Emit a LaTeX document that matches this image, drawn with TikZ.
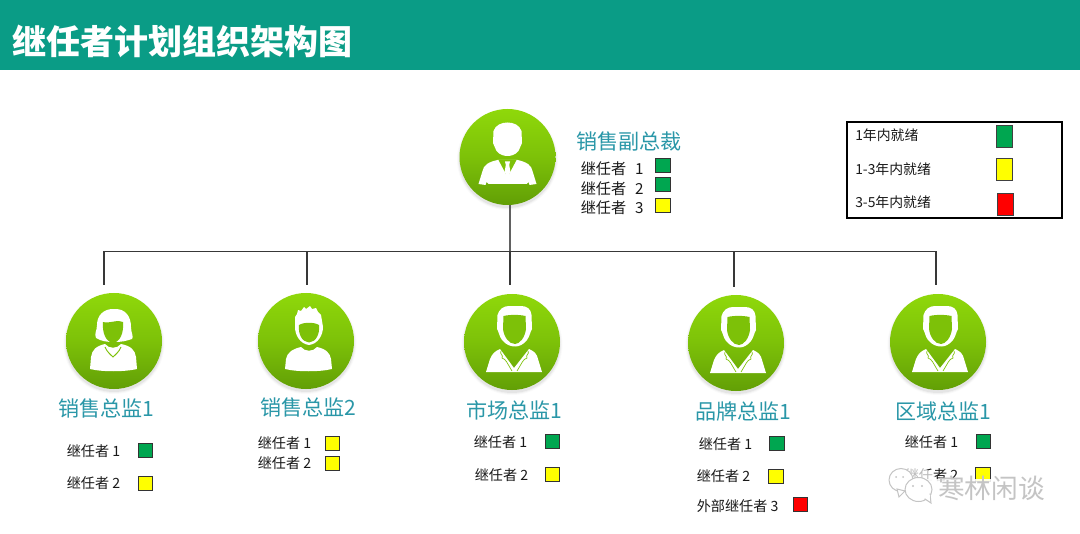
\documentclass[tikz,border=0pt]{standalone}
\usepackage{fontspec}
\setmainfont{Noto Sans CJK SC}
\usetikzlibrary{shadings}
\definecolor{headerteal}{HTML}{0A9C86}
\definecolor{nameteal}{HTML}{2A97A8}
\definecolor{swgreen}{HTML}{00A650}
\definecolor{swyellow}{HTML}{FFFF00}
\definecolor{swred}{HTML}{FF0000}
\definecolor{ballTop}{HTML}{8FD80A}
\definecolor{ballBot}{HTML}{629F06}
\definecolor{wmgray}{HTML}{C4C4C4}
\newcommand{\pxfont}[1]{\fontsize{#1}{#1}\selectfont}
\tikzset{
  x=0.75pt,y=-0.75pt,
  ball/.style={circle,minimum size=72pt,inner sep=0pt,top color=ballTop,bottom color=ballBot,middle color=ballTop!60!ballBot},
  wire/.style={draw=black!78,line width=0.95pt},
  post/.style={wire},
  title/.style={anchor=center,text=nameteal,font=\pxfont{15.8pt},inner sep=0pt},
  who/.style={anchor=west,text=black!90,font=\pxfont{10.6pt},inner sep=0pt},
  whobig/.style={anchor=west,text=black!90,font=\pxfont{11.4pt},inner sep=0pt},
  legtxt/.style={anchor=west,text=black!90,font=\pxfont{10.4pt},inner sep=0pt},
  sw/.style={draw=black!80,line width=0.7pt,inner sep=0pt,minimum width=11pt,minimum height=10.5pt},
  legsw/.style={draw=black!75,line width=0.7pt,inner sep=0pt,minimum width=12pt,minimum height=16.5pt},
  iconfill/.style={fill=white,draw=none},
  holefill/.style={fill=ballTop!60!ballBot,draw=none},
  lineonicon/.style={draw=ballTop!60!ballBot,line width=0.5pt},
  doctor/.pic={
    \fill[iconfill] (-15,-13) -- (-14.5,-27) .. controls (-13,-33) and (-8,-36) .. (-3,-36) -- (9,-36) .. controls (15,-36) and (19,-33) .. (19.5,-27) -- (20,-13) .. controls (18,-10) and (18,-6) .. (15,-2) .. controls (11,3) and (7,4.5) .. (3,4.5) .. controls (-1,4.5) and (-6,3) .. (-10,-2) .. controls (-13,-6) and (-13,-10) .. (-15,-13) -- cycle;
    \fill[holefill] (-8.5,-26) .. controls (-2,-27.5) and (7,-27.5) .. (13.5,-26) -- (14,-13) .. controls (13,-5) and (8,2) .. (3,2) .. controls (-3,2) and (-8,-5) .. (-9,-13) -- cycle;
    \fill[iconfill] (-12,7) -- (2,26) -- (17,7) .. controls (22,9) and (25,12) .. (26,17) -- (30,30) -- (-26,30) -- (-22,17) .. controls (-20,12) and (-17,9) .. (-12,7) -- cycle;
    \draw[lineonicon] (-11,9) .. controls (-13,12) and (-8,13) .. (-10,16) .. controls (-6,17) and (-5,21) .. (0,29);
    \draw[lineonicon] (16,9) .. controls (18,12) and (13,13) .. (15,16) .. controls (11,17) and (10,21) .. (5,29);
  },
  boss/.pic={
    \fill[iconfill] (-14.5,-14) -- (-14,-26) .. controls (-12,-32) and (-6,-34.5) .. (0,-34.5) .. controls (6,-34.5) and (12,-32) .. (14,-26) -- (14.5,-14) .. controls (13,-12) and (13,-9) .. (11,-6) .. controls (8,-2) and (3,-1) .. (0,-1) .. controls (-3,-1) and (-8,-2) .. (-11,-6) .. controls (-13,-9) and (-13,-12) .. (-14.5,-14) -- cycle;
    \fill[iconfill] (-10,3) -- (10,3) .. controls (19,5) and (24,8) .. (25,14) -- (29,27) -- (22,28) -- (21,25) -- (19,27) -- (-19,27) -- (-21,25) -- (-22,28) -- (-29,27) -- (-25,14) .. controls (-24,8) and (-19,5) .. (-10,3) -- cycle;
    \fill[holefill] (-9,3) -- (-1,18) -- (1,18) -- (9,3) -- cycle;
    \fill[iconfill] (-2.5,4.5) -- (2.5,4.5) -- (1.7,8) -- (3,15) -- (0,20) -- (-3,15) -- (-1.7,8) -- cycle;
  },
  woman/.pic={
    \fill[iconfill] (-1,-32) .. controls (12,-33) and (17,-24) .. (17,-14) .. controls (17,-8) and (20,-4) .. (18,-2) .. controls (12,0) and (8,1) .. (0,1) .. controls (-8,1) and (-13,0) .. (-18,-3) .. controls (-20,-8) and (-17,-10) .. (-17,-16) .. controls (-17,-26) and (-10,-32) .. (-1,-32) -- cycle;
    \fill[holefill] (-11,-19) .. controls (-5,-17) and (4,-22) .. (9,-19) .. controls (10,-8) and (6,1) .. (-1,2) .. controls (-8,1) and (-12,-8) .. (-11,-19) -- cycle;
    \fill[iconfill] (-9,3) .. controls (-5,8) and (3,8) .. (7,3) .. controls (17,5) and (21,9) .. (22,16) -- (23,28) .. controls (10,31) and (-12,31) .. (-24,28) -- (-23,16) .. controls (-22,9) and (-18,5) .. (-9,3) -- cycle;
    \draw[draw=ballTop!60!ballBot,line width=0.7pt] (-9,6) .. controls (-7,11) and (-3,14) .. (-1,16) .. controls (1,14) and (5,11) .. (7,6);
  },
  spiky/.pic={
    \fill[iconfill] (-11,-14) -- (-11,-24) -- (-9,-27) -- (-8,-31) -- (-5,-30) -- (-2,-34) -- (0,-32) -- (4,-35) -- (6,-32) -- (10,-33) -- (12,-29) -- (15,-26) -- (17,-14) .. controls (17,-6) and (12,3) .. (3,4) .. controls (-6,3) and (-11,-6) .. (-11,-14) -- cycle;
    \fill[holefill] (-7,-16) .. controls (-2,-19) and (8,-19) .. (13,-16) .. controls (14,-7) and (10,1) .. (3,1.5) .. controls (-4,1) and (-8,-7) .. (-7,-16) -- cycle;
    \fill[iconfill] (-5,6) .. controls (-1,11) and (7,11) .. (11,6) .. controls (20,8) and (24,12) .. (25,18) -- (26,28) .. controls (14,31) and (-9,31) .. (-21,28) -- (-20,18) .. controls (-19,12) and (-14,8) .. (-5,6) -- cycle;
  }
}
\newcommand{\personball}[4]{% name, x, y, icon
  \foreach \sr/\so in {50.5/0.02,49.5/0.03,48.5/0.05}{\fill[black,opacity=\so] (#2,#3+2.5) circle[radius=\sr];}
  \node[ball] (#1) at (#2,#3) {};
  \pic at (#2,#3) {#4};
}
\begin{document}
\begin{tikzpicture}
\useasboundingbox (0,0) rectangle (1080,534);
\fill[white] (0,0) rectangle (1080,534);
\fill[headerteal] (0,0) rectangle (1080,70.5);
\node[anchor=west,inner sep=0pt,text=white,font=\pxfont{25.5pt}\bfseries] (heading) at (12,41) {继任者计划组织架构图};

% people
\personball{vp}{507.5}{157}{boss}
\personball{d1}{114}{341}{woman}
\personball{d2}{306}{341}{spiky}
\personball{d3}{512}{342}{doctor}
\personball{d4}{736}{343}{doctor}
\personball{d5}{938}{342}{doctor}

% connectors
\coordinate (busL) at (104,251.5);
\coordinate (busR) at (936,251.5);
\coordinate (junc) at (510,251.5);
\coordinate (t1) at (104,285);
\coordinate (t2) at (307,285);
\coordinate (t3) at (510,285);
\coordinate (t4) at (734,287);
\coordinate (t5) at (936,285);
\coordinate (vpf) at (510,205.5);
\draw[wire,draw=black!62] (vpf) -- (junc);
\draw[wire] (busL) -- (busR);
\foreach \c/\e in {busL/t1,junc/t3,busR/t5}{\draw[post] (\c) -- (\e);}
\draw[post] (t2 |- busL) -- (t2);
\draw[post] (t4 |- busL) -- (t4);

% titles
\node[title,anchor=west] (n0) at (576,141) {销售副总裁};
\node[title] (n1) at (106,408) {销售总监1};
\node[title] (n2) at (308.5,407) {销售总监2};
\node[title] (n3) at (514.5,410) {市场总监1};
\node[title] (n4) at (743.5,411) {品牌总监1};
\node[title] (n5) at (943.5,411) {区域总监1};

% top successors
\node[whobig] (a1) at (580.5,168.5) {继任者\hspace{4pt} 1};
\node[whobig] (a2) at (580.5,188.5) {继任者\hspace{4pt} 2};
\node[whobig] (a3) at (580.5,208) {继任者\hspace{4pt} 3};
\node[sw,fill=swgreen] (sa1) at (663,165.5) {};
\node[sw,fill=swgreen] (sa2) at (663,184.5) {};
\node[sw,fill=swyellow] (sa3) at (663,205.5) {};

% director 1
\node[who] (b1) at (66.5,451) {继任者 1};
\node[who] (b2) at (66.5,483.5) {继任者 2};
\node[sw,fill=swgreen] (sb1) at (145.5,450) {};
\node[sw,fill=swyellow] (sb2) at (145.5,483) {};

% director 2
\node[who] (c1) at (257.5,443.5) {继任者 1};
\node[who] (c2) at (257.5,463.5) {继任者 2};
\node[sw,fill=swyellow] (sc1) at (332.5,443.5) {};
\node[sw,fill=swyellow] (sc2) at (332.5,463) {};

% director 3
\node[who] (d1t) at (473.5,442.5) {继任者 1};
\node[who] (d2t) at (474.5,475.5) {继任者 2};
\node[sw,fill=swgreen] (sd1) at (552.5,441) {};
\node[sw,fill=swyellow] (sd2) at (552.5,474) {};

% director 4
\node[who] (e1) at (698.5,444.5) {继任者 1};
\node[who] (e2) at (696.5,476.5) {继任者 2};
\node[who] (e3) at (696.5,506) {外部继任者 3};
\node[sw,fill=swgreen] (se1) at (777,443) {};
\node[sw,fill=swyellow] (se2) at (776,476) {};
\node[sw,fill=swred] (se3) at (800.5,504) {};

% director 5
\node[who] (f1) at (904.5,442.5) {继任者 1};
\node[who] (f2) at (904.5,475.5) {继任者 2};
\node[sw,fill=swgreen] (sf1) at (983.5,441) {};
\node[sw,fill=swyellow] (sf2) at (983,474) {};

% legend
\node[draw=black,line width=1.4pt,inner sep=0pt,minimum width=161pt,minimum height=71.5pt] (legend) at (954.5,170) {};
\node[legtxt] (l1) at (855,135) {1年内就绪};
\node[legtxt] (l2) at (855,169) {1-3年内就绪};
\node[legtxt] (l3) at (855,202.5) {3-5年内就绪};
\node[legsw,fill=swgreen] (sl1) at (1004,136) {};
\node[legsw,fill=swyellow] (sl2) at (1004,169) {};
\node[legsw,fill=swred] (sl3) at (1005.5,204) {};

% watermark
\fill[white,opacity=.88] (925,479) rectangle (1047,502);
\fill[white,opacity=.7] (912,486) ellipse[x radius=26,y radius=20];
\draw[wmgray,line width=0.75pt,fill=white] (901,480) ellipse[x radius=12,y radius=11.5];
\draw[wmgray,line width=0.75pt,fill=white] (905,491) -- (899,497) -- (897,489) -- cycle;
\draw[wmgray,line width=0.75pt,fill=white] (918.5,489.5) ellipse[x radius=13.5,y radius=12];
\draw[wmgray,line width=0.75pt,fill=white] (925,499) -- (931,503) -- (930,494) -- cycle;
\fill[white] (927,496) circle[radius=3.2];
\fill[wmgray] (913,486) circle[radius=1.2] (922,486) circle[radius=1.2] (896,477) circle[radius=1] (903,477) circle[radius=1];
\node[anchor=west,inner sep=0pt,text=wmgray,font=\pxfont{20pt}] (mark) at (938,488) {寒林闲谈};
\end{tikzpicture}
\end{document}
